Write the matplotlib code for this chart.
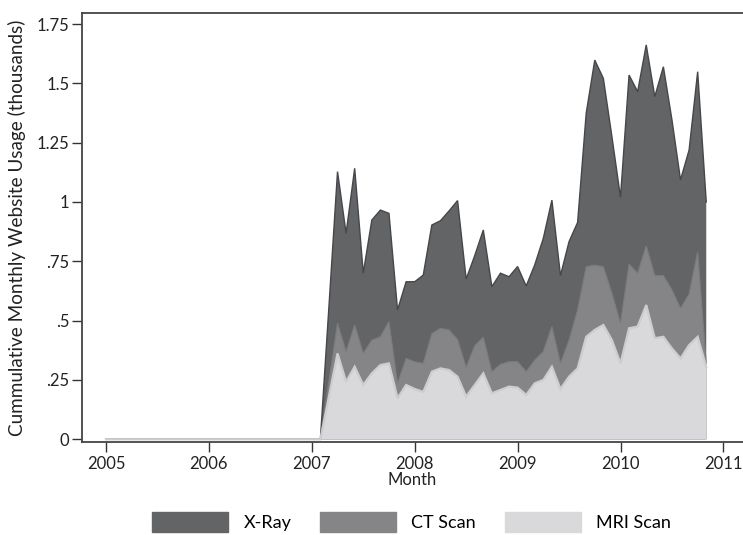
import numpy as np
import pandas as pd
import matplotlib.pyplot as plt
from matplotlib.patches import Patch

plt.rcParams['font.family'] = ['Lato', 'DejaVu Sans']

# monthly usage (thousands), 2007m3 .. 2010m11; nothing recorded before
start_month = "2007-03"
end_month = "2010-11"
mri = [0.180, 0.362, 0.243, 0.306, 0.229, 0.278, 0.313, 0.320, 0.173, 0.229,
       0.212, 0.200, 0.285, 0.299, 0.292, 0.264, 0.180, 0.229, 0.278, 0.194,
       0.208, 0.222, 0.218, 0.187, 0.236, 0.250, 0.306, 0.212, 0.264, 0.299,
       0.432, 0.461, 0.482, 0.418, 0.320, 0.468, 0.475, 0.566, 0.426, 0.432,
       0.383, 0.341, 0.397, 0.432, 0.306]
ct = [0.065, 0.127, 0.126, 0.176, 0.133, 0.140, 0.119, 0.176, 0.063, 0.112,
      0.115, 0.120, 0.160, 0.169, 0.169, 0.156, 0.123, 0.165, 0.152, 0.091,
      0.108, 0.105, 0.109, 0.098, 0.098, 0.120, 0.169, 0.108, 0.154, 0.246,
      0.295, 0.273, 0.245, 0.197, 0.169, 0.270, 0.225, 0.249, 0.264, 0.258,
      0.247, 0.211, 0.215, 0.358, 0.014]
xray = [0.315, 0.639, 0.499, 0.660, 0.338, 0.506, 0.534, 0.456, 0.309, 0.323,
        0.337, 0.372, 0.458, 0.453, 0.501, 0.586, 0.372, 0.380, 0.452, 0.358,
        0.384, 0.358, 0.401, 0.361, 0.401, 0.477, 0.533, 0.370, 0.415, 0.369,
        0.647, 0.864, 0.794, 0.660, 0.531, 0.797, 0.765, 0.847, 0.754, 0.880,
        0.716, 0.541, 0.607, 0.759, 0.680]

series_names = ["X-Ray", "CT Scan", "MRI Scan"]
fills = ["#636466", "#858588", "#d9d9db"]
lines = ["#46474a", "#7c7c7f", "#cdcdcf"]

year_ticks = [2005, 2006, 2007, 2008, 2009, 2010, 2011]
y_ticks = [0, 0.25, 0.5, 0.75, 1, 1.25, 1.5, 1.75]
y_tick_labels = ["0", ".25", ".5", ".75", "1", "1.25", "1.5", "1.75"]

periods = pd.period_range("2005-01", end_month, freq="M")
x = periods.year + (periods.month - 1) / 12
n_pad = len(periods) - len(mri)


def padded(vals):
    return np.concatenate([np.zeros(n_pad), vals])


mri_c = padded(mri)
ct_c = mri_c + padded(ct)
total = ct_c + padded(xray)

fig = plt.figure(figsize=(7.43, 5.35), dpi=100)
ax = fig.add_axes([82 / 743, 1 - 442 / 535, 1 - 82 / 743, (442 - 13) / 535])

# largest layer first so the lighter ones sit on top of it
for cum, fc, lc, lw in zip([total, ct_c, mri_c], fills, lines, [1.0, 0.8, 1.6]):
    ax.fill_between(x, 0, cum, facecolor=fc, edgecolor="none")
    ax.plot(x, cum, color=lc, lw=lw, solid_joinstyle="miter")

ax.set_xlim(2005 - 24 / 102.9, 2005 + (743 - 106) / 102.9)
ax.set_ylim(-2.7 / 237.3, (439.3 - 13) / 237.3)
ax.set_xticks(year_ticks)
ax.set_xticklabels([str(y) for y in year_ticks])
ax.set_yticks(y_ticks)
ax.set_yticklabels(y_tick_labels)
ax.tick_params(axis="both", length=7, width=1, color="#333333",
               labelsize=12, labelcolor="#222222")
ax.tick_params(axis="x", pad=3)
ax.tick_params(axis="y", pad=2)

for side in ["left", "bottom", "top"]:
    ax.spines[side].set_color("#444444")
    ax.spines[side].set_linewidth(1.3)
ax.spines["right"].set_visible(False)

ax.set_xlabel("Month", fontsize=12, color="#222222", labelpad=0)
ax.set_ylabel("Cummulative Monthly Website Usage (thousands)", fontsize=13.6,
              color="#222222")
ax.yaxis.set_label_coords(-0.084, 0.5)

# legend centred under the plot region
handles = [Patch(facecolor=fc, edgecolor=fc) for fc in fills]
fig.legend(handles, series_names, loc="center", bbox_to_anchor=(0.554, 0.024),
           ncol=3, frameon=False, fontsize=13, handlelength=4.2,
           handleheight=1.3, handletextpad=0.85, columnspacing=1.6,
           borderpad=0.2)

fig.savefig("out.png", dpi=100)
